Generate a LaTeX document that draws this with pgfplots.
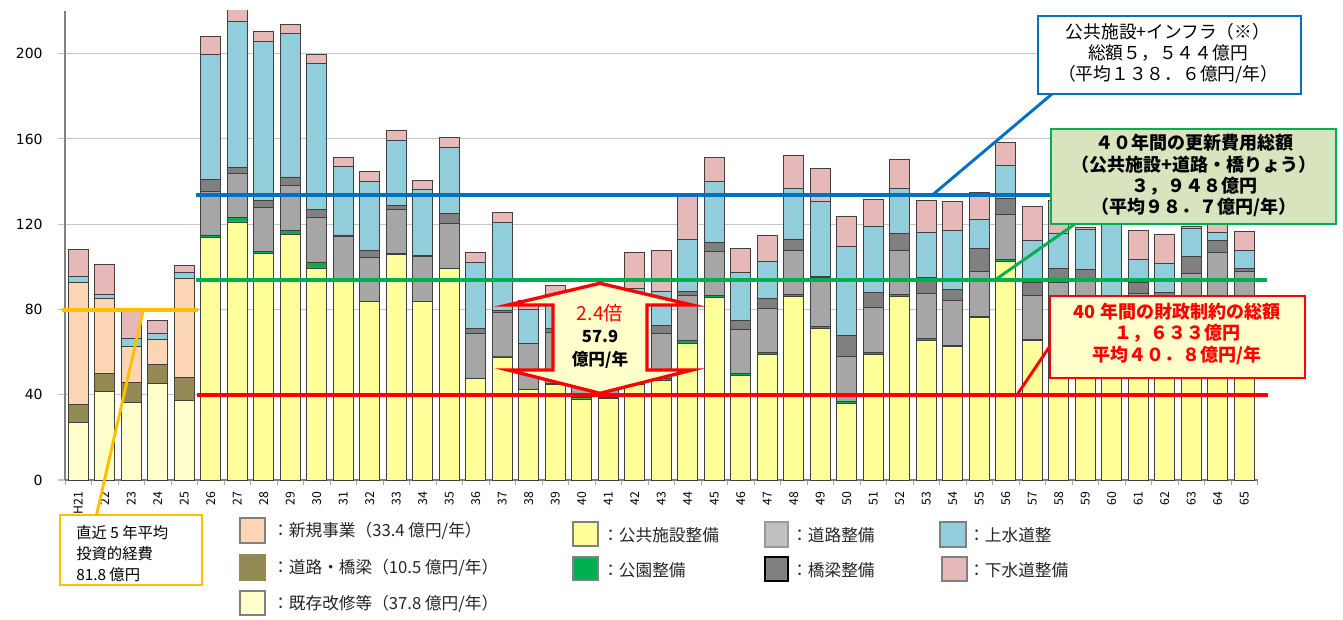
\documentclass[border=0pt]{standalone}
\usepackage{pgfplots}
\pgfplotsset{compat=1.18}
\usepackage{pgfplotstable}
\usepackage{fontspec}
\setmainfont{DejaVu Sans}
\newfontfamily\jp{Noto Sans CJK JP}
\definecolor{cNew}{HTML}{FCD5B5}
\definecolor{cRoadF}{HTML}{948A54}
\definecolor{cExist}{HTML}{FFFFCC}
\definecolor{cPub}{HTML}{FFFF99}
\definecolor{cPark}{HTML}{00B050}
\definecolor{cRoad}{HTML}{A6A6A6}
\definecolor{cBridge}{HTML}{808080}
\definecolor{cWater}{HTML}{92CDDC}
\definecolor{cSewer}{HTML}{E6B9B8}
\definecolor{cBlue}{HTML}{0070C0}
\definecolor{cGreen}{HTML}{00B050}
\definecolor{cRed}{HTML}{FF0000}
\definecolor{cOrange}{HTML}{FFC000}
\definecolor{cGreenBox}{HTML}{D7E4BD}
\pgfplotstableread{
x a b c d e f g h k
0 26.9 8.7 57.2 0 0 0 0 2.8 12.5
1 41.4 8.6 35.2 0 0 0 0 2.0 13.9
2 36.4 9.5 16.6 0 0 0 0 3.9 13.6
3 45.3 8.9 11.7 0 0 0 0 2.85 5.95
4 37.5 10.8 46.5 0 0 0 0 2.5 3.2
5 0 0 0 113.75 1.25 20.6 5.3 58.6 8.6
6 0 0 0 121.1 2.0 20.8 2.7 68.4 10
7 0 0 0 106.25 0.95 20.8 3.25 74.55 4.5
8 0 0 0 115.2 2.1 20.8 4.1 67.2 4.35
9 0 0 0 99.5 2.8 21.1 3.5 68.4 4.4
10 0 0 0 93.5 0.3 20.6 0.6 32 4.4
11 0 0 0 83.6 0.2 20.7 3.3 32.4 4.5
12 0 0 0 105.9 0.2 20.9 1.75 30.75 4.4
13 0 0 0 83.75 0.2 21.05 0.3 30.95 4.35
14 0 0 0 99.2 0.2 20.9 4.9 30.9 4.5
15 0 0 0 47.7 0.2 20.85 2.35 31.2 4.4
16 0 0 0 57.7 0.2 20.7 1.1 41.1 4.7
17 0 0 0 42.5 0.2 21.2 0.3 15.8 4.2
18 0 0 0 45 0.3 24.2 1.6 15.8 4.5
19 0 0 0 38.0 0.8 20 2 12 5
20 0 0 0 38.3 0.4 20 2 12 5
21 0 0 0 45 0.4 20.5 3 20.9 17.2
22 0 0 0 46.9 0.8 21.05 3.95 15.9 19.1
23 0 0 0 64.1 1.2 21.1 2.2 24.2 21.2
24 0 0 0 85.6 0.8 20.8 4.2 28.8 11.05
25 0 0 0 49.2 0.8 20.6 4.2 22.4 11.4
26 0 0 0 58.9 0.8 20.8 4.7 17.3 12.5
27 0 0 0 86.25 0.75 20.8 5.3 23.5 15.9
28 0 0 0 71.1 0.8 23.3 0.4 35.3 15.2
29 0 0 0 35.9 1.1 21.1 9.9 41.4 14.5
30 0 0 0 58.9 0.8 21.1 7 31.2 12.6
31 0 0 0 86.25 0.65 20.6 8.1 21.4 13.6
32 0 0 0 65.6 0.8 21.1 7.5 21.1 15.15
33 0 0 0 62.5 0.8 21.1 5.1 27.7 13.4
34 0 0 0 76.1 0.8 20.9 10.8 13.6 12.6
35 0 0 0 102.7 0.7 21.1 7.5 15.7 10.6
36 0 0 0 65.3 0.6 20.5 6.1 20 15.9
37 0 0 0 71.5 0.5 20.6 6.6 16.7 15.35
38 0 0 0 71.5 0.7 20.8 5.75 18.75 1.1
39 0 0 0 64 0.7 21 0.3 35 6
40 0 0 0 66 0.6 20.9 5 11.1 13.6
41 0 0 0 65.5 0.6 20.7 1.2 13.6 13.6
42 0 0 0 75.3 0.6 21 7.8 13.3 1
43 0 0 0 85 0.6 21.1 5.5 3.9 5
44 0 0 0 76 0.6 21.1 1.5 8.3 9.2
}\data
\begin{document}
\begin{tikzpicture}
\useasboundingbox (0,0) rectangle (1007.25pt,464.25pt);
\begin{axis}[
  at={(48.75pt,104.25pt)}, anchor=south west,
  scale only axis, width=894.375pt, height=351.75pt,
  ybar stacked, bar width=15pt,
  xmin=-0.5, xmax=44.5, ymin=0, ymax=220,
  ytick={0,40,...,200},
  xtick={0,...,44},
  xticklabels={H21,22,23,24,25,26,27,28,29,30,31,32,33,34,35,36,37,38,39,40,41,42,43,44,45,46,47,48,49,50,51,52,53,54,55,56,57,58,59,60,61,62,63,64,65},
  minor xtick={-0.5,0.5,...,44.5},
  axis x line*=bottom, axis y line*=left,
  axis line style={-, draw=gray, line width=0.8pt},
  tick align=outside,
  major tick length=5.25pt, minor tick length=4pt,
  major x tick style={draw=none},
  minor x tick style={draw=gray!70, line width=0.6pt},
  ytick style={draw=gray!50, line width=0.8pt},
  ymajorgrids, grid style={draw=gray!45, line width=0.8pt},
  yticklabel style={font=\fontsize{10.5}{12}\selectfont, xshift=-8pt},
  xticklabel style={font=\jp\fontsize{9.2}{10}\selectfont, rotate=90, anchor=east},
  /pgf/number format/assume math mode=true,
  every axis plot/.append style={draw=black!75, line width=0.5pt},
]
\addplot[fill=cExist] table[x=x,y=a]{\data};
\addplot[fill=cRoadF] table[x=x,y=b]{\data};
\addplot[fill=cNew] table[x=x,y=c]{\data};
\addplot[fill=cPub] table[x=x,y=d]{\data};
\addplot[fill=cPark] table[x=x,y=e]{\data};
\addplot[fill=cRoad] table[x=x,y=f]{\data};
\addplot[fill=cBridge] table[x=x,y=g]{\data};
\addplot[fill=cWater] table[x=x,y=h]{\data};
\addplot[fill=cSewer] table[x=x,y=k]{\data};
\end{axis}
\begin{scope}[x=0.75pt,y=-0.75pt,yshift=464.25pt]
% reference lines
\draw[cBlue,line width=3pt] (196,195.3)--(1050,195.3);
\draw[cBlue,line width=2.2pt] (932,195.3)--(1052,94);
\draw[cGreen,line width=3pt] (196,280)--(1267,280);
\draw[cGreen,line width=2.2pt] (995,280)--(1075,224);
\draw[cRed,line width=3pt] (197,395.3)--(1268,395.3);
\draw[cRed,line width=2.2pt] (1016.7,395.3)--(1052,343);
\draw[cOrange,line width=3pt] (62,310)--(198,310);
\draw[cOrange,line width=2.2pt] (143.3,310)--(96.5,515);
% double arrow
\draw[cRed,line width=2.5pt,fill=cExist,line join=miter] (600,283.3)--(508,305)--(553,305)--(553,370)--(508,370)--(600,393.3)--(692,370)--(647,370)--(647,305)--(692,305)--cycle;
\node[text=cRed,font=\jp\fontsize{14.5}{16}\selectfont] at (600,313) {2.4倍};
\node[font=\jp\bfseries\fontsize{12.5}{14}\selectfont] at (600,336) {57.9};
\node[font=\jp\bfseries\fontsize{12.5}{14}\selectfont] at (600,360) {億円/年};
% blue box
\draw[cBlue,line width=2.2pt,fill=white] (1038,16) rectangle (1301,94);
\begin{scope}[every node/.style={font=\jp\fontsize{13.3}{15}\selectfont}]
\node at (1168,31.7) {公共施設+インフラ（※）};
\node at (1168,52.7) {総額５，５４４億円};
\node at (1168,74) {（平均１３８．６億円/年）};
\end{scope}
% green box
\draw[cGreen,line width=2.2pt,fill=cGreenBox] (1051,129) rectangle (1336,224);
\begin{scope}[every node/.style={font=\jp\bfseries\fontsize{13.5}{15}\selectfont}]
\node at (1194,143) {４０年間の更新費用総額};
\node at (1194,164.5) {（公共施設+道路・橋りょう）};
\node at (1194,186) {３，９４８億円};
\node at (1194,207) {（平均９８．７億円/年）};
\end{scope}
% red box
\draw[cRed,line width=2.2pt,fill=cExist] (1050,296) rectangle (1305,378);
\begin{scope}[every node/.style={text=cRed,font=\jp\bfseries\fontsize{13.5}{15}\selectfont}]
\node at (1177,312) {40 年間の財政制約の総額};
\node at (1177,333.5) {１，６３３億円};
\node at (1177,355) {平均４０．８億円/年};
\end{scope}
% orange box
\draw[cOrange,line width=2.2pt,fill=white] (60,515) rectangle (202,585);
\begin{scope}[every node/.style={anchor=west,inner sep=0pt,font=\jp\fontsize{11.5}{13}\selectfont}]
\node at (76,532.5) {直近 5 年平均};
\node at (76,554) {投資的経費};
\node at (76,575) {81.8 億円};
\end{scope}
% legend
\begin{scope}[every node/.style={anchor=west,inner sep=0pt,font=\jp\fontsize{12.5}{14}\selectfont,text=black!85}]
\draw[gray,line width=1.2pt,fill=cNew] (240,518) rectangle (265,543);
\node at (272,531) {：新規事業（33.4 億円/年）};
\draw[cRoadF,line width=1.2pt,fill=cRoadF] (240,555) rectangle (265,580);
\node at (272,568) {：道路・橋梁（10.5 億円/年）};
\draw[gray,line width=1.2pt,fill=cExist] (240,591) rectangle (265,615);
\node at (272,604) {：既存改修等（37.8 億円/年）};
\draw[gray,line width=1.2pt,fill=cPub] (573,522) rectangle (598,546);
\node at (602,535) {：公共施設整備};
\draw[gray,line width=1.2pt,fill=cPark] (573,557) rectangle (598,580);
\node at (602,570) {：公園整備};
\draw[gray!80,line width=1.2pt,fill=gray!50] (765,522) rectangle (788,547);
\node at (791,535) {：道路整備};
\draw[black,line width=1.2pt,fill=cBridge] (765,557) rectangle (788,581);
\node at (791,570) {：橋梁整備};
\draw[gray,line width=1.2pt,fill=cWater] (940,522) rectangle (966,547);
\node at (968,535) {：上水道整};
\draw[gray,line width=1.2pt,fill=cSewer] (942,557) rectangle (967,581);
\node at (968,570) {：下水道整備};
\end{scope}
\end{scope}
\end{tikzpicture}
\end{document}
